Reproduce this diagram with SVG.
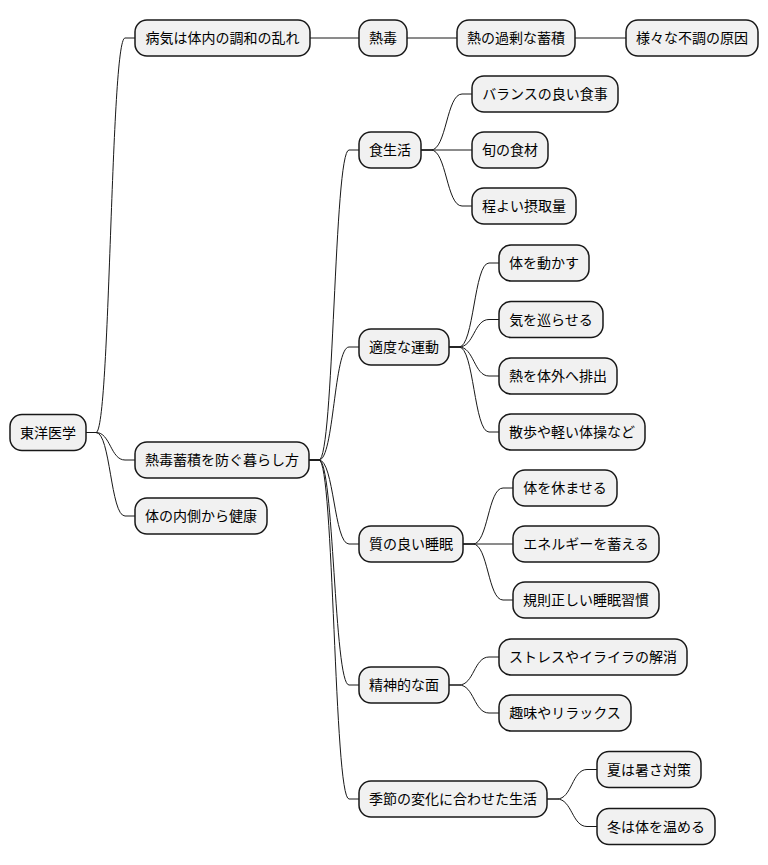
<svg xmlns="http://www.w3.org/2000/svg" width="768" height="865" viewBox="0 0 768 865">
<style>
.n rect{fill:#F1F1F1;stroke:#181818;stroke-width:1.5}
.n text{font-family:"Noto Sans CJK JP","Noto Sans",sans-serif;font-size:14px;fill:#000;text-anchor:middle}
#connectors path{fill:none;stroke:#181818;stroke-width:1}
</style>
<rect width="768" height="865" fill="#FFFFFF"/>
<g id="connectors">
<path d="M86,432.5 L96,432.5 C110.5,432.5 110.5,38 125,38 L135,38"/>
<path d="M86,432.5 L96,432.5 C110.5,432.5 110.5,460 125,460 L135,460"/>
<path d="M86,432.5 L96,432.5 C110.5,432.5 110.5,516 125,516 L135,516"/>
<path d="M310,38 L359,38"/>
<path d="M407,38 L457,38"/>
<path d="M575,38 L626,38"/>
<path d="M309,460 L319,460 C334,460 334,150 349,150 L359,150"/>
<path d="M309,460 L319,460 C334,460 334,347 349,347 L359,347"/>
<path d="M309,460 L319,460 C334,460 334,544 349,544 L359,544"/>
<path d="M309,460 L319,460 C334,460 334,685 349,685 L359,685"/>
<path d="M309,460 L319,460 C334,460 334,799 349,799 L359,799"/>
<path d="M421,150 L431,150 C446.5,150 446.5,94 462,94 L472,94"/>
<path d="M421,150 L472,150"/>
<path d="M421,150 L431,150 C446.5,150 446.5,206 462,206 L472,206"/>
<path d="M449,347 L459,347 C474,347 474,263 489,263 L499,263"/>
<path d="M449,347 L459,347 C474,347 474,319.5 489,319.5 L499,319.5"/>
<path d="M449,347 L459,347 C474,347 474,376 489,376 L499,376"/>
<path d="M449,347 L459,347 C474,347 474,432 489,432 L499,432"/>
<path d="M463,544 L473,544 C488,544 488,488 503,488 L513,488"/>
<path d="M463,544 L513,544"/>
<path d="M463,544 L473,544 C488,544 488,600 503,600 L513,600"/>
<path d="M449,685 L459,685 C474,685 474,657 489,657 L499,657"/>
<path d="M449,685 L459,685 C474,685 474,713 489,713 L499,713"/>
<path d="M547,799 L557,799 C572,799 572,769.5 587,769.5 L597,769.5"/>
<path d="M547,799 L557,799 C572,799 572,826.5 587,826.5 L597,826.5"/>
</g>
<g id="n-root" class="n"><rect x="10" y="414.5" width="76" height="36" rx="12"/><text x="48" y="437.5">東洋医学</text></g>
<g id="n-byoki" class="n"><rect x="135" y="20" width="175" height="36" rx="12"/><text x="222.5" y="43">病気は体内の調和の乱れ</text></g>
<g id="n-netsudoku" class="n"><rect x="359" y="20" width="48" height="36" rx="12"/><text x="383" y="43">熱毒</text></g>
<g id="n-kajo" class="n"><rect x="457" y="20" width="118" height="36" rx="12"/><text x="516" y="43">熱の過剰な蓄積</text></g>
<g id="n-genin" class="n"><rect x="626" y="20" width="132" height="36" rx="12"/><text x="692" y="43">様々な不調の原因</text></g>
<g id="n-kurashi" class="n"><rect x="135" y="442" width="174" height="36" rx="12"/><text x="222" y="465">熱毒蓄積を防ぐ暮らし方</text></g>
<g id="n-kenko" class="n"><rect x="135" y="498" width="132" height="36" rx="12"/><text x="201" y="521">体の内側から健康</text></g>
<g id="n-shoku" class="n"><rect x="359" y="132" width="62" height="36" rx="12"/><text x="390" y="155">食生活</text></g>
<g id="n-balance" class="n"><rect x="472" y="76" width="146" height="36" rx="12"/><text x="545" y="99">バランスの良い食事</text></g>
<g id="n-shun" class="n"><rect x="472" y="132" width="76" height="36" rx="12"/><text x="510" y="155">旬の食材</text></g>
<g id="n-hodoyoi" class="n"><rect x="472" y="188" width="104" height="36" rx="12"/><text x="524" y="211">程よい摂取量</text></g>
<g id="n-undo" class="n"><rect x="359" y="329" width="90" height="36" rx="12"/><text x="404" y="352">適度な運動</text></g>
<g id="n-ugokasu" class="n"><rect x="499" y="245" width="90" height="36" rx="12"/><text x="544" y="268">体を動かす</text></g>
<g id="n-meguraseru" class="n"><rect x="499" y="301.5" width="104" height="36" rx="12"/><text x="551" y="324.5">気を巡らせる</text></g>
<g id="n-haishutsu" class="n"><rect x="499" y="358" width="118" height="36" rx="12"/><text x="558" y="381">熱を体外へ排出</text></g>
<g id="n-sanpo" class="n"><rect x="499" y="414" width="146" height="36" rx="12"/><text x="572" y="437">散歩や軽い体操など</text></g>
<g id="n-suimin" class="n"><rect x="359" y="526" width="104" height="36" rx="12"/><text x="411" y="549">質の良い睡眠</text></g>
<g id="n-yasumaseru" class="n"><rect x="513" y="470" width="104" height="36" rx="12"/><text x="565" y="493">体を休ませる</text></g>
<g id="n-energy" class="n"><rect x="513" y="526" width="146" height="36" rx="12"/><text x="586" y="549">エネルギーを蓄える</text></g>
<g id="n-kisoku" class="n"><rect x="513" y="582" width="146" height="36" rx="12"/><text x="586" y="605">規則正しい睡眠習慣</text></g>
<g id="n-seishin" class="n"><rect x="359" y="667" width="90" height="36" rx="12"/><text x="404" y="690">精神的な面</text></g>
<g id="n-stress" class="n"><rect x="499" y="639" width="188" height="36" rx="12"/><text x="593" y="662">ストレスやイライラの解消</text></g>
<g id="n-shumi" class="n"><rect x="499" y="695" width="132" height="36" rx="12"/><text x="565" y="718">趣味やリラックス</text></g>
<g id="n-kisetsu" class="n"><rect x="359" y="781" width="188" height="36" rx="12"/><text x="453" y="804">季節の変化に合わせた生活</text></g>
<g id="n-natsu" class="n"><rect x="597" y="751.5" width="104" height="36" rx="12"/><text x="649" y="774.5">夏は暑さ対策</text></g>
<g id="n-fuyu" class="n"><rect x="597" y="808.5" width="118" height="36" rx="12"/><text x="656" y="831.5">冬は体を温める</text></g>
</svg>
